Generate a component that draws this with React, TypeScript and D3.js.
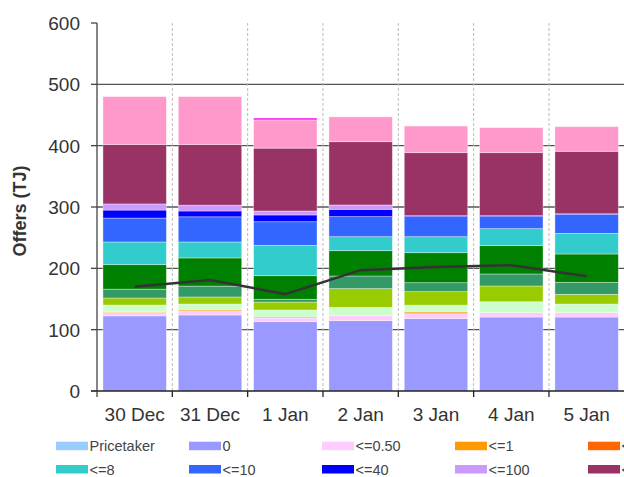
import React from "react";
import * as d3 from "d3";

const categories = ["30 Dec", "31 Dec", "1 Jan", "2 Jan", "3 Jan", "4 Jan", "5 Jan"];

const seriesNames = [
  "Pricetaker", "0", "<=0.50", "<=1", "<=2", "<=3", "<=4", "<=5", "<=6",
  "<=8", "<=10", "<=40", "<=100", "<=500", "<=1000", "<=Max",
];
const seriesColors = [
  "#99CCFF", "#9999FF", "#FFCCFF", "#FF9900", "#FF6600", "#CCFFCC", "#99CC00", "#339966", "#008000",
  "#33CCCC", "#3366FF", "#0000FF", "#CC99FF", "#993366", "#FF99CC", "#FF00FF",
];

const pricetaker = [0, 0, 0, 0, 0, 0, 0];
const zero = [122.5, 123.9, 113, 114.7, 118, 120.6, 120.6];
const le050 = [5.7, 6, 6, 8.1, 8, 7.1, 7.1];
const le1 = [1.3, 2.1, 1.6, 0, 2.8, 0, 0];
const le2 = [0, 0, 0, 0, 0, 0, 0];
const le3 = [10.7, 9.8, 11.4, 13.6, 11.2, 17.9, 14.1];
const le4 = [11.4, 11.5, 13, 30.5, 22, 25.6, 15.8];
const le5 = [14.4, 17.7, 4.5, 20.6, 14.6, 19.6, 19.6];
const le6 = [40, 46, 38.5, 41.3, 48.9, 46.2, 46.2];
const le8 = [37, 26, 49.5, 22.8, 26.1, 27.7, 33.6];
const le10 = [39, 41, 38.5, 32.7, 32.7, 19.6, 31];
const le40 = [13, 9.5, 11, 11.9, 1.6, 1.6, 1];
const le100 = [10, 9.5, 6.5, 7.1, 0, 0, 0];
const le500 = [97, 99, 102.5, 103.2, 102.7, 102.7, 101.8];
const le1000 = [78, 78, 46, 40.5, 43.4, 40.8, 40.2];
const leMax = [0, 0, 3, 0, 0, 0, 0];

const seriesValues = [
  pricetaker, zero, le050, le1, le2, le3, le4, le5, le6,
  le8, le10, le40, le100, le500, le1000, leMax,
];

const lineValues = [170, 181, 158, 197, 202, 205, 187];

const yTicks = [0, 100, 200, 300, 400, 500, 600];

const W = 624;
const H = 477;
const FONT = "'Liberation Sans', Arial, sans-serif";

export default function App() {
  const x = d3.scaleBand<string>().domain(categories).range([97, 624.3]).padding(0);
  const y = d3.scaleLinear().domain([0, 600]).range([391, 23]);
  const bw = x.bandwidth() * 0.842;

  const table = categories.map((c, i) => {
    const row: Record<string, any> = { cat: c };
    seriesNames.forEach((n, k) => (row[n] = seriesValues[k][i]));
    return row;
  });
  const stacked = d3.stack<any>().keys(seriesNames)(table);

  const line = d3
    .line<number>()
    .x((_, i) => (x(categories[i]) as number) + x.bandwidth() / 2)
    .y((d) => y(d));

  const row1 = seriesNames.slice(0, 9).map((n, i) => ({ n, c: seriesColors[i], col: i, row: 0 }));
  const row2 = seriesNames.slice(9).map((n, i) => ({ n, c: seriesColors[i + 9], col: i, row: 1 }));
  const legendItems = [...row1, ...row2];

  return (
    <svg width={W} height={H} style={{ position: "absolute", left: 0, top: 0, background: "#fff" }} fontFamily={FONT}>
      <rect x={0} y={0} width={W} height={H} fill="#fff" />
      {/* horizontal grid */}
      {yTicks.slice(1, -1).map((t) => (
        <line key={t} x1={97} x2={W} y1={y(t)} y2={y(t)} stroke="#555" strokeWidth={1.3} />
      ))}
      {/* vertical dashed grid */}
      {categories.slice(1).map((c) => (
        <line key={c} x1={x(c)} x2={x(c)} y1={23} y2={391} stroke="#bbb" strokeWidth={1} strokeDasharray="3,2" />
      ))}
      {/* bars */}
      {stacked.map((s, k) => (
        <g key={s.key} fill={seriesColors[k]}>
          {s.map((d, i) => {
            const h = y(d[0]) - y(d[1]);
            if (h <= 0) return null;
            return (
              <rect
                key={i}
                x={(x(categories[i]) as number) + (x.bandwidth() - bw) / 2}
                y={y(d[1])}
                width={bw}
                height={h}
                stroke="rgba(255,255,255,0.45)"
                strokeWidth={0.8}
              />
            );
          })}
        </g>
      ))}
      {/* line */}
      <path d={line(lineValues) as string} fill="none" stroke="#333" strokeWidth={2.5} />
      {/* axes */}
      <line x1={97} x2={97} y1={23} y2={397} stroke="#444" strokeWidth={1.3} />
      <line x1={91} x2={W} y1={391} y2={391} stroke="#222" strokeWidth={1.3} />
      {yTicks.map((t) => (
        <g key={t}>
          <line x1={91} x2={97} y1={y(t)} y2={y(t)} stroke="#444" strokeWidth={1.3} />
          <text x={80} y={y(t)} dy="0.36em" textAnchor="end" fontSize={19} fill="#333">
            {t}
          </text>
        </g>
      ))}
      {categories.slice(1).map((c) => (
        <line key={"t" + c} x1={x(c)} x2={x(c)} y1={391} y2={397} stroke="#222" strokeWidth={1.3} />
      ))}
      {categories.map((c) => (
        <text key={"l" + c} x={(x(c) as number) + x.bandwidth() / 2} y={421} textAnchor="middle" fontSize={19} fill="#333">
          {c}
        </text>
      ))}
      <text
        transform="translate(26,211) rotate(-90)"
        textAnchor="middle"
        fontSize={18}
        fontWeight="bold"
        fill="#333"
      >
        Offers (TJ)
      </text>
      {/* legend */}
      {legendItems.map((it) => {
        const lx = 56 + it.col * 133;
        const ly = it.row === 0 ? 441.7 : 465;
        return (
          <g key={it.n}>
            <rect x={lx} y={ly} width={32} height={8.5} fill={it.c} />
            <text x={lx + 33.5} y={ly + 9.5} fontSize={14.5} fill="#444">
              {it.n}
            </text>
          </g>
        );
      })}
    </svg>
  );
}
